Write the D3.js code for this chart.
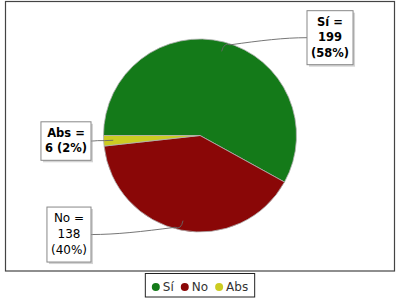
<!DOCTYPE html>
<html>
<head>
<meta charset="utf-8">
<script src="https://cdn.jsdelivr.net/npm/d3@7"></script>
<style>
  body { margin: 0; background: #fff; }
  svg { display: block; font-family: "DejaVu Sans", sans-serif; }
</style>
</head>
<body>
<div class="chart"></div>
<script>
var width = 400, height = 300;
var categories = ["Sí", "No", "Abs"];
var votes = [199, 138, 6];
var colors = ["#147a19", "#8a0707", "#cccc22"];

var total = d3.sum(votes);
var data = categories.map(function(c, i) { return { name: c, value: votes[i], color: colors[i] }; });

var cx = 200, cy = 135.5, R = 96.5;

var svg = d3.select(".chart").append("svg")
            .attr("width", width)
            .attr("height", height);

// plot border
svg.append("rect")
   .attr("x", 5.5).attr("y", 1.5)
   .attr("width", 389).attr("height", 269.5)
   .attr("fill", "#fff")
   .attr("stroke", "#444")
   .attr("stroke-width", 1.2);

var pie = d3.pie().sort(null).value(function(d) { return d.value; })
            .startAngle(-Math.PI / 2).endAngle(Math.PI * 1.5);
var arcs = pie(data);
var arc = d3.arc().innerRadius(0).outerRadius(R);

var g = svg.append("g").attr("transform", "translate(" + cx + "," + cy + ")");

g.selectAll("path.slice")
 .data(arcs)
 .enter()
 .append("path")
 .attr("class", "slice")
 .attr("d", arc)
 .attr("fill", function(d) { return d.data.color; })
 .attr("stroke", "#b0b0b0")
 .attr("stroke-width", 0.8);

function polar(a, r) { return [cx + r * Math.sin(a), cy - r * Math.cos(a)]; }

// labels
arcs.forEach(function(d) {
  var mid = (d.startAngle + d.endAngle) / 2;
  var right = Math.sin(mid) > 0;
  var pct = Math.round(d.data.value / total * 100);
  var lines;
  if (d.data.name == "Abs") {
    lines = [d.data.name + " =", d.data.value + " (" + pct + "%)"];
  } else {
    lines = [d.data.name + " =", String(d.data.value), "(" + pct + "%)"];
  }
  var bold = d.data.name != "No";
  var fs = bold ? 11.5 : 12;
  var step = bold ? 15.5 : 16;

  var ly = cy - 101 * Math.cos(mid);
  var lab = svg.append("g");
  var shadow = lab.append("rect");
  var box = lab.append("rect");
  var txt = lab.append("g");
  var maxW = 0;
  lines.forEach(function(s, i) {
    var t = txt.append("text")
       .attr("text-anchor", "middle")
       .attr("y", i * step)
       .style("font-size", fs + "px")
       .style("font-weight", bold ? "bold" : "normal")
       .attr("fill", "#000")
       .text(s);
    maxW = Math.max(maxW, t.node().getComputedTextLength());
  });
  var bw = maxW + 8;
  var bh = (lines.length - 1) * step + 23;
  var bx = right ? cx + 107 : cx - 109 - bw;
  var by = ly - bh / 2;
  txt.attr("transform", "translate(" + (bx + bw / 2) + "," + (by + 15) + ")");
  shadow.attr("x", bx + 2).attr("y", by + 2).attr("width", bw).attr("height", bh)
        .attr("fill", "rgba(160,160,160,0.45)");
  box.attr("x", bx).attr("y", by).attr("width", bw).attr("height", bh)
     .attr("fill", "#fff").attr("stroke", "#888").attr("stroke-width", 1);

  // link line
  var p0 = polar(mid, 0.9 * R);
  var pc = polar(mid, 1.0 * R);
  var side = right ? 1 : -1;
  var elbow = [pc[0] + 6 * side, pc[1] + (cy - pc[1]) * 0.03];
  var ex = right ? bx : bx + bw;
  var path = d3.path();
  path.moveTo(p0[0], p0[1]);
  path.quadraticCurveTo(pc[0], pc[1], elbow[0], elbow[1]);
  path.bezierCurveTo(elbow[0] + (ex - elbow[0]) * 0.4, elbow[1] + (ly - elbow[1]) * 0.6,
                     elbow[0] + (ex - elbow[0]) * 0.7, ly, ex, ly);
  svg.insert("path", "g + g")
     .attr("d", path.toString())
     .attr("fill", "none")
     .attr("stroke", "#666")
     .attr("stroke-width", 0.9);
});

// legend
var legend = svg.append("g");
var lbox = legend.append("rect");
var lx = 0;
data.forEach(function(d) {
  var it = legend.append("g");
  it.append("circle").attr("cx", lx + 4).attr("cy", 0).attr("r", 4).attr("fill", d.color);
  var t = it.append("text").attr("x", lx + 11).attr("y", 4.3)
            .style("font-size", "12px").attr("fill", "#333").text(d.name);
  lx += 11 + t.node().getComputedTextLength() + 7;
});
var lw = lx - 7;
var lx0 = width / 2 - lw / 2;
legend.attr("transform", "translate(" + lx0 + ",287)");
lbox.attr("x", -6.5).attr("y", -13.5).attr("width", lw + 13).attr("height", 23.5)
    .attr("fill", "#fff").attr("stroke", "#222").attr("stroke-width", 1);
</script>
</body>
</html>
